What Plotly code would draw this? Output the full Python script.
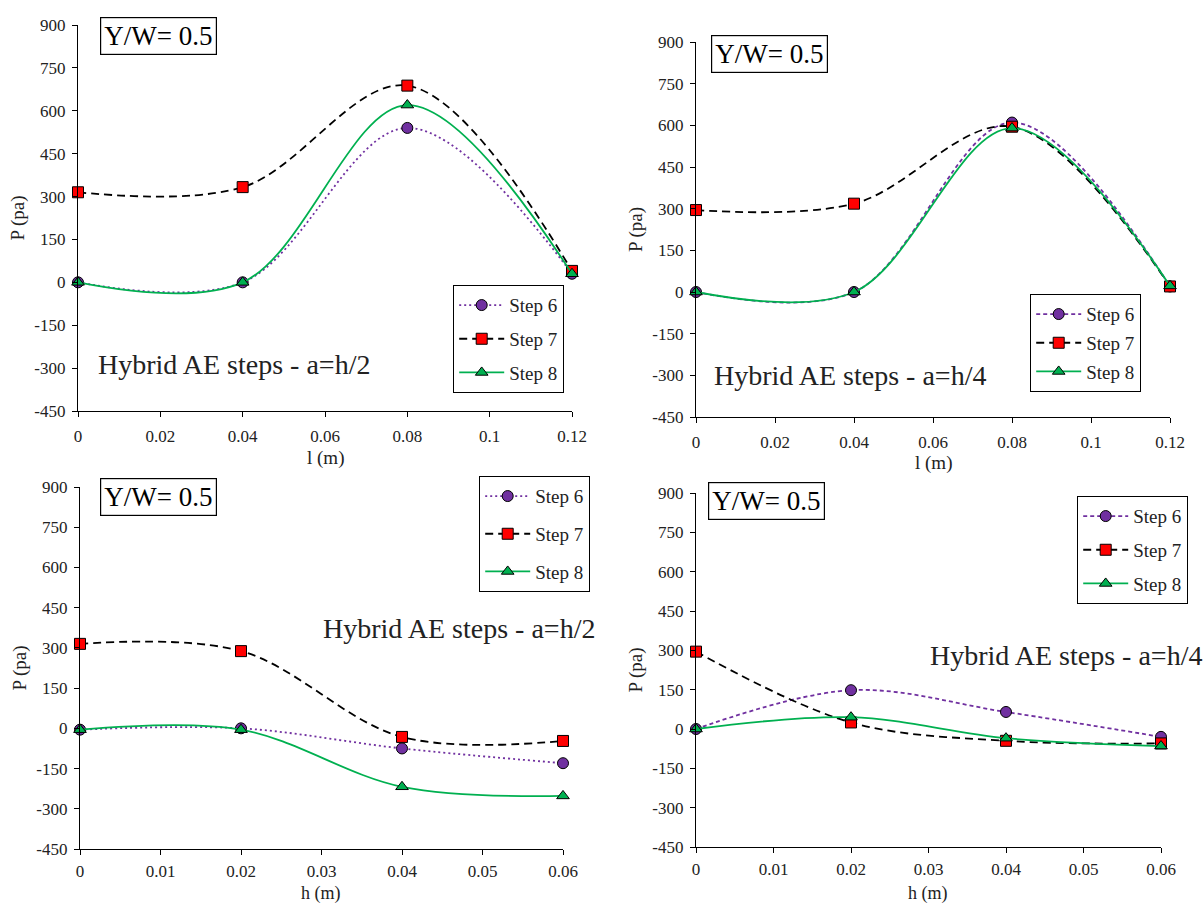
import plotly.graph_objects as go

# Pressure along the step length (l) and height (h) for the hybrid AE steps
l_pos = [0, 0.04, 0.08, 0.12]
h_pos = [0, 0.02, 0.04, 0.06]

# a = h/2, along l
l_half_step6 = [0, 0, 540, 30]
l_half_step7 = [315, 333, 688, 40]
l_half_step8 = [0, 0, 620, 30]

# a = h/4, along l
l_quarter_step6 = [0, 0, 610, 20]
l_quarter_step7 = [295, 318, 595, 20]
l_quarter_step8 = [0, 0, 590, 22]

# a = h/2, along h
h_half_step6 = [-5, 0, -75, -130]
h_half_step7 = [315, 288, -32, -47]
h_half_step8 = [-5, -5, -218, -252]

# a = h/4, along h
h_quarter_step6 = [0, 148, 65, -30]
h_quarter_step7 = [295, 25, -45, -55]
h_quarter_step8 = [0, 45, -35, -65]

y_ticks = [-450, -300, -150, 0, 150, 300, 450, 600, 750, 900]
l_ticks = [0, 0.02, 0.04, 0.06, 0.08, 0.1, 0.12]
h_ticks = [0, 0.01, 0.02, 0.03, 0.04, 0.05, 0.06]

W, H = 1204, 906
FONT = "Liberation Serif"
PURPLE = "#7030A0"
GREEN = "#00B050"
RED = "#FF0000"


def px_x(v):
    return v / W


def px_y(v):
    return 1 - v / H


# panel layout in pixels: (left, right, top, bottom)
# xt = x-axis title (centre x, y, vertical anchor, font size), tls = tick label standoff
panels = [
    dict(x=l_pos, data=(l_half_step6, l_half_step7, l_half_step8), box=(78, 572, 25, 411),
         ticks=l_ticks, xrange=[0, 0.12], xtitle="l (m)", xt=(325, 445, "top", 19), tls=4,
         dot6="2px,3px", legend=(453, 285, 6), yw=(100, 17), hy=(96, 364, "left"),
         label="Hybrid AE steps - a=h/2"),
    dict(x=l_pos, data=(l_quarter_step6, l_quarter_step7, l_quarter_step8), box=(696, 1170, 42, 417),
         ticks=l_ticks, xrange=[0, 0.12], xtitle="l (m)", xt=(933, 450, "top", 19), tls=4,
         dot6="4px,3px", legend=(1030, 294, 1), yw=(711, 35), hy=(712, 375, "left"),
         label="Hybrid AE steps - a=h/4"),
    dict(x=h_pos, data=(h_half_step6, h_half_step7, h_half_step8), box=(80, 563, 487, 849),
         ticks=h_ticks, xrange=[0, 0.06], xtitle="h (m)", xt=(321, 906, "bottom", 18), tls=1,
         dot6="2px,3px", legend=(479, 476, 10), yw=(100, 478), hy=(597, 628, "right"),
         label="Hybrid AE steps - a=h/2"),
    dict(x=h_pos, data=(h_quarter_step6, h_quarter_step7, h_quarter_step8), box=(696, 1161, 493, 847),
         ticks=h_ticks, xrange=[0, 0.06], xtitle="h (m)", xt=(928, 906, "bottom", 18), tls=1,
         dot6="4px,3px", legend=(1077, 496, 6), yw=(708, 482), hy=(1204, 655, "right"),
         label="Hybrid AE steps - a=h/4"),
]

fig = go.Figure()
layout = {}
annotations = []

for i, p in enumerate(panels, start=1):
    sfx = "" if i == 1 else str(i)
    xa, ya = "x" + sfx, "y" + sfx
    leg = "legend" + sfx
    s6, s7, s8 = p["data"]
    styles = [
        ("Step 6", s6, dict(color=PURPLE, width=1.8, dash=p["dot6"]),
         dict(symbol="circle", size=11, color=PURPLE, line=dict(color="black", width=1))),
        ("Step 7", s7, dict(color="black", width=1.8, dash="8px,5px"),
         dict(symbol="square", size=11, color=RED, line=dict(color="black", width=1))),
        ("Step 8", s8, dict(color=GREEN, width=1.8, dash="solid"),
         dict(symbol="triangle-up", size=11, color=GREEN, line=dict(color="black", width=1))),
    ]
    for k, (name, ys, line, marker) in enumerate(styles):
        fig.add_trace(go.Scatter(
            x=p["x"], y=ys, name=name, mode="lines+markers",
            line=dict(shape="spline", smoothing=1, **line), marker=marker,
            xaxis=xa, yaxis=ya, legend=leg, legendgroup=f"p{i}s{k}",
            cliponaxis=False,
        ))

    left, right, top, bottom = p["box"]
    axis_font = dict(family=FONT, size=17, color="#222")
    layout["xaxis" + sfx] = dict(
        domain=[px_x(left), px_x(right)], anchor=ya, range=p["xrange"], automargin=False,
        tickvals=p["ticks"], ticktext=[f"{t:g}" for t in p["ticks"]],
        showgrid=False, zeroline=False, showline=True, linecolor="black", linewidth=1.2,
        ticks="outside", ticklen=5, tickcolor="black", tickfont=axis_font,
        ticklabelstandoff=p["tls"],
    )
    layout["yaxis" + sfx] = dict(
        domain=[px_y(bottom), px_y(top)], anchor=xa, range=[-450, 900], automargin=False,
        tickvals=y_ticks, ticktext=[str(t) for t in y_ticks],
        showgrid=False, zeroline=False, showline=True,
        linecolor="black", linewidth=1.2, ticks="outside", ticklen=5, tickcolor="black",
        tickfont=axis_font, ticklabelstandoff=3,
        title=dict(text="P (pa)", font=dict(family=FONT, size=19, color="#222"), standoff=4),
    )

    # x-axis title, drawn as a paper annotation under the tick labels
    tx, ty, tanchor, tsize = p["xt"]
    annotations.append(dict(
        text=p["xtitle"], xref="paper", yref="paper", x=px_x(tx), y=px_y(ty),
        xanchor="center", yanchor=tanchor, showarrow=False,
        font=dict(family=FONT, size=tsize, color="#222"),
    ))

    lx, ly, gap = p["legend"]
    layout[leg] = dict(
        x=px_x(lx), y=px_y(ly), xanchor="left", yanchor="top", xref="paper", yref="paper",
        bordercolor="black", borderwidth=1.2, bgcolor="white", itemwidth=45,
        font=dict(family=FONT, size=19, color="#222"), tracegroupgap=gap,
    )

    yx, yy = p["yw"]
    annotations.append(dict(
        text="Y/W= 0.5", xref="paper", yref="paper", x=px_x(yx), y=px_y(yy),
        xanchor="left", yanchor="top", showarrow=False,
        font=dict(family=FONT, size=27, color="black"),
        bordercolor="black", borderwidth=1.2, borderpad=3, bgcolor="white",
    ))
    hx, hyy, anc = p["hy"]
    annotations.append(dict(
        text=p["label"], xref="paper", yref="paper", x=px_x(hx), y=px_y(hyy),
        xanchor=anc, yanchor="middle", showarrow=False,
        font=dict(family=FONT, size=28, color="#222"),
    ))

fig.update_layout(
    width=W, height=H, margin=dict(l=0, r=0, t=0, b=0, autoexpand=False),
    font=dict(family=FONT, color="#222"),
    paper_bgcolor="white", plot_bgcolor="white",
    annotations=annotations, **layout,
)

fig.write_html("out.html")
